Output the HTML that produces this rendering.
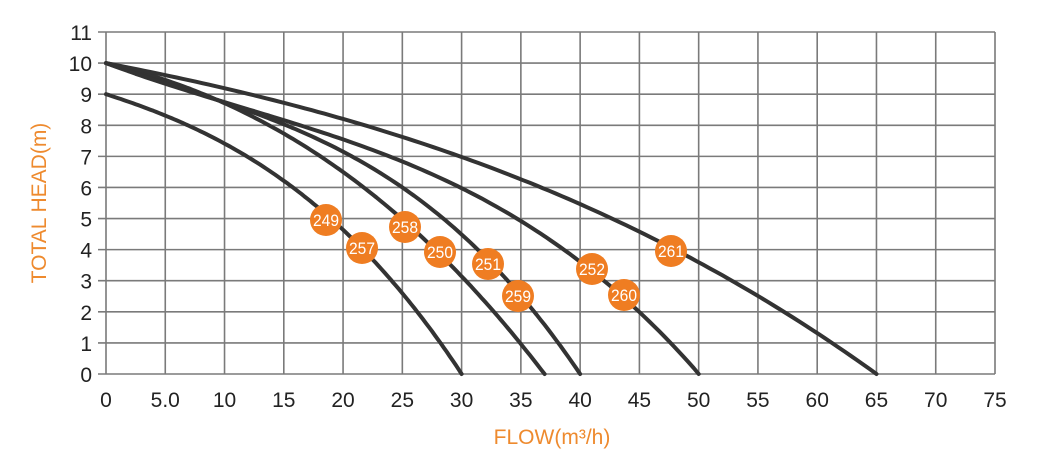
<!DOCTYPE html>
<html><head><meta charset="utf-8"><style>
html,body{margin:0;padding:0;background:#fff;}
svg{display:block;font-family:"Liberation Sans",sans-serif;}
</style></head><body>
<svg id="s" width="1060" height="476" viewBox="0 0 1060 476" xmlns="http://www.w3.org/2000/svg">
<g id="grid" stroke="#7a7a7a" stroke-width="1.6" fill="none"></g>
<g id="curves" stroke="#333" stroke-width="4" fill="none" stroke-linecap="round" stroke-linejoin="round"></g>
<g id="labels" font-size="21" fill="#222"></g>
<g id="marks"></g>
<text x="46" y="203" font-size="21" fill="#ee8a2e" text-anchor="middle" transform="rotate(-90 46 203)">TOTAL HEAD(m)</text>
<text x="552" y="444" font-size="21" fill="#ee8a2e" text-anchor="middle">FLOW(m³/h)</text>
</svg>
<script>
const NS="http://www.w3.org/2000/svg";
const X=q=>106+q*(889/75), Y=h=>374-h*(342/11);
const IQ=x=>(x-106)/(889/75), IH=y=>(374-y)/(342/11);
function el(p,t,a,txt){const e=document.createElementNS(NS,t);for(const k in a)e.setAttribute(k,a[k]);if(txt!==undefined)e.textContent=txt;document.getElementById(p).appendChild(e);return e;}
for(let i=0;i<=15;i++){const x=X(i*5);el('grid','line',{x1:x,y1:Y(11),x2:x,y2:Y(0)});
 el('labels','text',{x:x,y:407,'text-anchor':'middle'},i==0?'0':(i==1?'5.0':String(i*5)));}
for(let j=0;j<=11;j++){const y=Y(j);el('grid','line',{x1:X(0)-8,y1:y,x2:X(75),y2:y});
 el('labels','text',{x:92,y:y+8,'text-anchor':'end'},String(j));}
const curves=[
 [9,30,[[165,110],[224,145],[283,180],[326,220],[362,248],[407,297],[430,323],[450,353]]],
 [10,37,[[165,82],[224,105],[283,133],[343,165],[405,227],[440,252],[453,267],[497,320]]],
 [10,40,[[165,80],[224,100],[283,127],[343,155],[402,188],[461,222],[488,264],[518,296],[530,308]]],
 [10,50,[[165,75],[224,95],[283,122],[343,143],[402,165],[461,192],[520,223],[578,258],[592,269],[624,295],[640,305],[680,347]]],
 [10,65,[[165,70],[224,87],[283,105],[343,120],[402,135],[461,155],[520,182],[580,207],[657,240],[700,260],[753,293],[820,333]]]
];
function solve3(A,b){const M=A.map((r,i)=>[...r,b[i]]);for(let i=0;i<3;i++){let p=i;for(let k=i+1;k<3;k++)if(Math.abs(M[k][i])>Math.abs(M[p][i]))p=k;const t=M[i];M[i]=M[p];M[p]=t;for(let k=0;k<3;k++)if(k!=i){const f=M[k][i]/M[i][i];for(let j=i;j<4;j++)M[k][j]-=f*M[i][j];}}return M.map((r,i)=>r[3]/r[i]);}
for(const [H,Q,P] of curves){
 const pts=P.map(([x,y])=>[IQ(x),IH(y),1]);pts.push([Q,0,30]);
 const A=[[0,0,0],[0,0,0],[0,0,0]],b=[0,0,0];
 for(const [q,h,w] of pts){const f=[q,q*q,q*q*q];for(let i=0;i<3;i++){b[i]+=w*f[i]*(h-H);for(let j=0;j<3;j++)A[i][j]+=w*f[i]*f[j];}}
 const c=solve3(A,b);
 let d='';for(let i=0;i<=120;i++){const q=Q*i/120;let h=H+c[0]*q+c[1]*q*q+c[2]*q*q*q;if(i==120)h=0;d+=(i?'L':'M')+X(q).toFixed(1)+' '+Y(h).toFixed(1);}
 el('curves','path',{d});}
const m=[[326,220,'249'],[362,248,'257'],[405,227,'258'],[440,252,'250'],[488,264,'251'],[518,296,'259'],[592,269,'252'],[624,295,'260'],[671,251,'261']];
for(const [x,y,t] of m){el('marks','circle',{cx:x,cy:y,r:16,fill:'#ef7d22'});
 el('marks','text',{x:x,y:y+6,'text-anchor':'middle','font-size':17,fill:'#fff',textLength:26,lengthAdjust:'spacingAndGlyphs'},t);}
</script>
</body></html>
